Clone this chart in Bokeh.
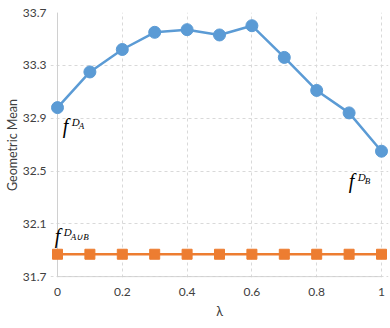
from bokeh.plotting import figure
from bokeh.models import Range1d, FixedTicker, ColumnDataSource
from bokeh.core.properties import value
from bokeh.embed import file_html
from bokeh.resources import INLINE

lam = [0.0, 0.1, 0.2, 0.3, 0.4, 0.5, 0.6, 0.7, 0.8, 0.9, 1.0]
gm_mix = [32.98, 33.25, 33.42, 33.55, 33.57, 33.53, 33.60, 33.36, 33.11, 32.94, 32.65]
gm_union = [31.87, 31.87, 31.87, 31.87, 31.87, 31.87, 31.87, 31.87, 31.87, 31.87, 31.87]
x_ticks = [0, 0.2, 0.4, 0.6, 0.8, 1]
x_tick_labels = {0: "0", 0.2: "0.2", 0.4: "0.4", 0.6: "0.6", 0.8: "0.8", 1: "1"}
y_ticks = [31.7, 32.1, 32.5, 32.9, 33.3, 33.7]

# annotation anchors (data coords) and their sub/superscript parts
ann_x = [0.0164, 0.899, -0.0083]
ann_y = [32.842, 32.425, 32.006]
ann_sub = ["A", "B", "A\u222aB"]

BLUE = "#5B9BD5"
ORANGE = "#ED7D31"
TXT = "#404040"
AXIS = "#D0D0D0"
FONT = "Lato"

# frame: 338 px wide; x=0 sits 7 px inside the frame's left edge, 324 px per unit
x_lo = -7 / 324
x_hi = x_lo + 338 / 324
y_lo = y_ticks[0] - 0.006
y_hi = y_ticks[-1]

p = figure(width=390, height=328, output_backend="svg", toolbar_location=None,
           x_range=Range1d(x_lo, x_hi), y_range=Range1d(y_lo, y_hi),
           min_border_left=50, min_border_right=2, min_border_top=12, min_border_bottom=51)
p.outline_line_color = None

p.xaxis.ticker = FixedTicker(ticks=x_ticks)
p.xaxis.major_label_overrides = x_tick_labels
p.yaxis.ticker = FixedTicker(ticks=y_ticks)
for ax in (p.xaxis, p.yaxis):
    ax.major_tick_line_color = None
    ax.minor_tick_line_color = None
    ax.major_tick_out = 0
    ax.major_tick_in = 0
    ax.axis_line_color = None
    ax.major_label_text_font = FONT
    ax.major_label_text_font_size = "12px"
    ax.major_label_text_color = TXT
    ax.axis_label_text_font = FONT
    ax.axis_label_text_font_style = "normal"
    ax.axis_label_text_color = TXT
    ax.axis_label_text_font_size = "12.5px"
p.xaxis.major_label_standoff = 10
p.yaxis.major_label_standoff = 4
p.xaxis.axis_label = "\u03bb"
p.xaxis.axis_label_standoff = 5
p.yaxis.axis_label = "Geometric Mean"
p.yaxis.axis_label_standoff = 0

for g in (p.xgrid, p.ygrid):
    g.grid_line_color = "#D9D9D9"
    g.grid_line_dash = "3 3"
    g.grid_line_width = 1

# axis lines meeting at the origin
p.segment(x0=[x_ticks[0], x_ticks[0]], y0=[y_ticks[0], y_ticks[0]],
          x1=[x_ticks[0], x_ticks[-1]], y1=[y_ticks[-1], y_ticks[0]],
          line_color=AXIS, line_width=1)

src = ColumnDataSource(dict(x=lam, a=gm_mix, u=gm_union))
p.line("x", "u", source=src, color=ORANGE, line_width=2.5)
p.scatter("x", "u", source=src, marker="square", size=10, color=ORANGE)
p.line("x", "a", source=src, color=BLUE, line_width=2.5)
p.scatter("x", "a", source=src, marker="circle", size=12, color=BLUE)

asrc = ColumnDataSource(dict(x=ann_x, y=ann_y, f=["f"] * 3, d=["D"] * 3, s=ann_sub))
common = dict(source=asrc, text_font=value("Liberation Serif"), text_font_style="italic",
              text_color="#000000", text_align="left", text_baseline="middle")
p.text("x", "y", text="f", text_font_size="20px", **common)
p.text("x", "y", text="d", text_font_size="11px", x_offset=9, y_offset=-4, **common)
p.text("x", "y", text="s", text_font_size="9px", x_offset=16, y_offset=0.5, **common)

open("out.html", "w").write(file_html(p, INLINE))
